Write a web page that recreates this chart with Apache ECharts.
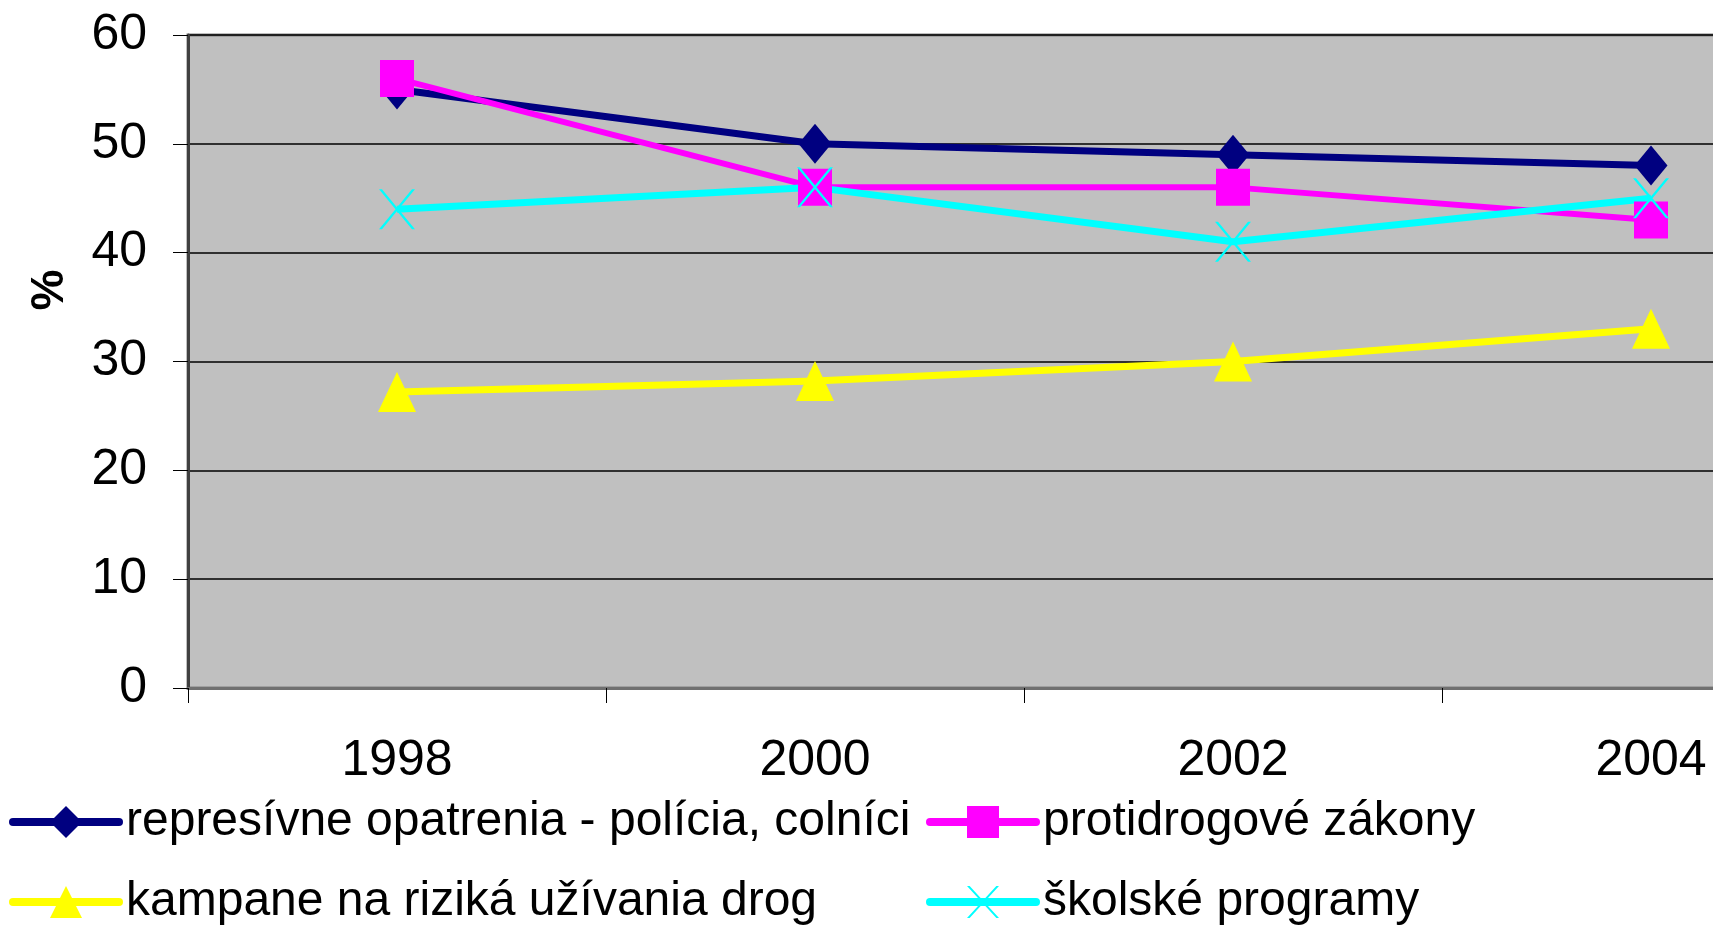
<!DOCTYPE html>
<html>
<head>
<meta charset="utf-8">
<script src="https://cdn.jsdelivr.net/npm/echarts@6/dist/echarts.min.js"></script>
<style>
html, body { margin: 0; padding: 0; background: #fff; overflow: hidden; }
/* plot runs past the right edge of the window, as in the original */
#chart { width: 1861px; height: 928px; }
</style>
</head>
<body>
<div id="chart"></div>
<script>
var years = ['1998', '2000', '2002', '2004'];
var yTicks = { min: 0, max: 60, step: 10 };

var represivne = [55, 50, 49, 48];
var zakony = [56, 46, 46, 43];
var kampane = [27.2, 28.2, 30, 33];
var skolske = [44, 46, 41, 45];

var names = [
    'represívne opatrenia - polícia, colníci',
    'protidrogové zákony',
    'kampane na riziká užívania drog',
    'školské programy'
];

var font = 'Liberation Sans, Arial, sans-serif';
// X marker
var crossPath = 'path://M0,0 L3,0 L36,40 L33,40 Z M33,0 L36,0 L3,40 L0,40 Z';

var myChart = echarts.init(document.getElementById('chart'));

// one legend per item, 2 columns x 2 rows
function legendItem(left, top, name) {
    return {
        left: left,
        top: top,
        padding: 0,
        itemWidth: 106,
        itemHeight: 40,
        data: [name],
        lineStyle: { width: 8, cap: 'round' },
        textStyle: {
            fontFamily: font,
            fontSize: 48,
            color: '#000',
            padding: [0, 0, 0, 2]
        }
    };
}

var option = {
    animation: false,
    backgroundColor: '#fff',
    grid: {
        left: 188,
        top: 35,
        width: 1672,
        height: 653,
        show: true,
        backgroundColor: '#c0c0c0',
        borderColor: '#808080',
        borderWidth: 3
    },
    legend: [
        legendItem(9, 798, names[0]),
        legendItem(926, 798, names[1]),
        legendItem(9, 878, names[2]),
        legendItem(926, 878, names[3])
    ],
    graphic: [{
        type: 'text',
        x: 50,
        y: 290,
        rotation: Math.PI / 2,
        style: {
            text: '%',
            font: 'bold 46px Liberation Sans',
            fill: '#000',
            textAlign: 'center',
            textVerticalAlign: 'middle'
        }
    }],
    xAxis: {
        type: 'category',
        data: years,
        boundaryGap: true,
        axisLine: { lineStyle: { color: '#707070', width: 3 } },
        axisTick: { show: true, length: 15, lineStyle: { color: '#000', width: 1 } },
        axisLabel: { interval: 0, margin: 48, fontSize: 50, fontFamily: font, color: '#000' },
        splitLine: { show: false }
    },
    yAxis: {
        type: 'value',
        min: yTicks.min,
        max: yTicks.max,
        interval: yTicks.step,
        axisLine: { show: true, lineStyle: { color: '#404040', width: 3 } },
        axisTick: { show: true, length: 15, lineStyle: { color: '#000', width: 1 } },
        axisLabel: { margin: 41, fontSize: 50, fontFamily: font, color: '#000' },
        splitLine: { show: true, lineStyle: { color: '#000', width: 1.5 } }
    },
    series: [
        {
            name: names[0],
            type: 'line',
            data: represivne,
            symbol: 'diamond',
            symbolSize: [33, 40],
            lineStyle: { color: '#000080', width: 7 },
            itemStyle: { color: '#000080' }
        },
        {
            name: names[1],
            type: 'line',
            data: zakony,
            symbol: 'rect',
            symbolSize: [34, 37],
            lineStyle: { color: '#ff00ff', width: 6 },
            itemStyle: { color: '#ff00ff' }
        },
        {
            name: names[2],
            type: 'line',
            data: kampane,
            symbol: 'triangle',
            symbolSize: [38, 40],
            lineStyle: { color: '#ffff00', width: 7 },
            itemStyle: { color: '#ffff00' }
        },
        {
            name: names[3],
            type: 'line',
            data: skolske,
            symbol: crossPath,
            symbolSize: [36, 40],
            lineStyle: { color: '#00ffff', width: 7 },
            itemStyle: { color: '#00ffff' }
        }
    ]
};

myChart.setOption(option);
</script>
</body>
</html>
